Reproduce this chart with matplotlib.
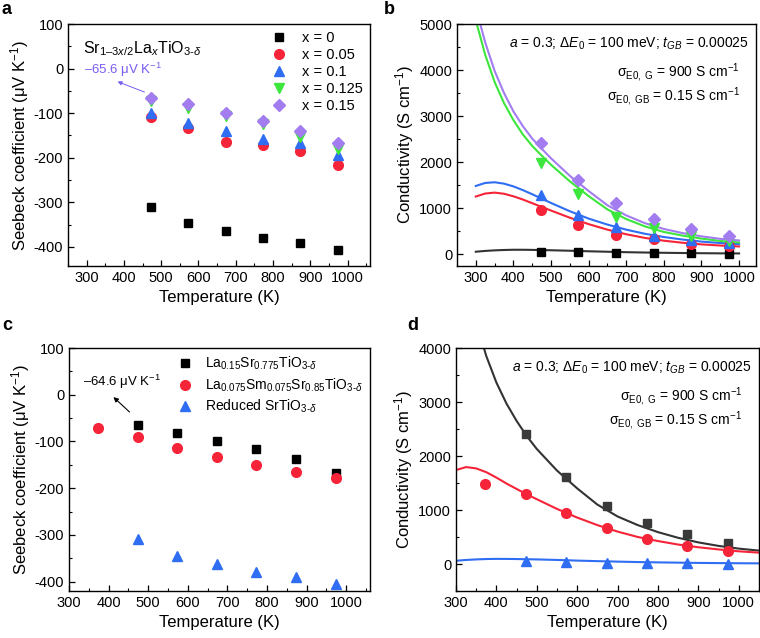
import matplotlib
matplotlib.use("Agg")
import matplotlib.pyplot as plt
from matplotlib.ticker import MultipleLocator

plt.rcParams['font.family'] = ['Liberation Sans', 'DejaVu Sans']
plt.rcParams['mathtext.fontset'] = 'custom'
plt.rcParams['mathtext.rm'] = 'Liberation Sans'
plt.rcParams['mathtext.it'] = 'Liberation Sans:italic'
plt.rcParams['mathtext.sf'] = 'Liberation Sans'
plt.rcParams['axes.unicode_minus'] = False

# ---------------- data ----------------
T_meas = [473, 573, 673, 773, 873, 973]

# panel a: Seebeck coefficient (uV/K)
a_labels = ['x = 0', 'x = 0.05', 'x = 0.1', 'x = 0.125', 'x = 0.15']
S_x0 = [-310, -347, -365, -380, -392, -406]
S_x005 = [-109, -134, -164, -171, -184, -217]
S_x01 = [-99, -122, -141, -159, -167, -193]
S_x0125 = [-72, -88, -107, -124, -153, -181]
S_x015 = [-65.6, -80, -100, -118, -139, -168]

# panel b: conductivity (S/cm) points
C_x0 = [55, 40, 25, 18, 12, 8]
C_x005 = [948, 622, 415, 330, 222, 168]
C_x01 = [1288, 858, 580, 400, 300, 230]
C_x0125 = [1985, 1305, 805, 560, 385, 280]
C_x015 = [2409, 1600, 1100, 765, 548, 398]

# panel b: model curves
T_fit_b = [300, 325, 350, 375, 400, 425, 450, 475, 500, 550, 600, 650, 700, 750, 800, 850, 900, 950, 1000]
fit_b_x0 = [50, 68, 80, 88, 93, 93, 90, 86, 82, 72, 60, 50, 40, 33, 27, 22, 18, 15, 13]
fit_b_x005 = [1250, 1315, 1335, 1310, 1255, 1185, 1105, 1025, 945, 790, 650, 530, 430, 350, 290, 245, 210, 185, 165]
fit_b_x01 = [1480, 1545, 1560, 1530, 1470, 1390, 1300, 1205, 1110, 930, 770, 640, 530, 440, 370, 315, 270, 240, 215]
fit_b_x0125 = [5080, 4330, 3740, 3280, 2910, 2600, 2350, 2140, 1940, 1580, 1260, 970, 760, 600, 480, 400, 335, 285, 252]
fit_b_x015 = [5350, 4600, 3980, 3500, 3100, 2780, 2510, 2290, 2080, 1700, 1370, 1060, 840, 670, 545, 455, 385, 330, 295]

# panel c: Seebeck coefficient
c_labels = [r'La$_{0.15}$Sr$_{0.775}$TiO$_{3\text{-}\delta}$',
            r'La$_{0.075}$Sm$_{0.075}$Sr$_{0.85}$TiO$_{3\text{-}\delta}$',
            r'Reduced SrTiO$_{3\text{-}\delta}$']
T_c_red = [373, 473, 573, 673, 773, 873, 973]
S_La = [-64.6, -81, -98, -116, -138, -167]
S_LaSm = [-72, -90, -113, -134, -151, -166, -179]
S_STO = [-309, -345, -363, -379, -391, -406]

# panel d: conductivity points
C_La = [2409, 1616, 1083, 756, 557, 396]
C_LaSm = [1480, 1294, 941, 663, 460, 334, 235]
C_STO = [60, 42, 25, 18, 12, 8]

# panel d: model curves
T_fit_d = [300, 325, 350, 375, 400, 425, 450, 475, 500, 550, 600, 650, 700, 750, 800, 850, 900, 950, 1000, 1050]
fit_d_La = [6300, 5300, 4480, 3850, 3360, 2970, 2650, 2370, 2130, 1730, 1400, 1100, 880, 720, 590, 485, 400, 335, 285, 248]
fit_d_LaSm = [1740, 1795, 1770, 1700, 1600, 1490, 1390, 1290, 1200, 1020, 860, 720, 600, 500, 425, 360, 310, 270, 235, 210]
fit_d_STO = [60, 75, 85, 92, 95, 94, 92, 88, 85, 75, 63, 53, 44, 36, 30, 25, 20, 17, 14, 12]

# ---------------- style ----------------
BLACK = '#000000'
DGRAY = '#333333'
RED = '#f52438'
BLUE = '#2f6df2'
GREEN = '#3ce63c'
PURPLE = '#a37cf0'
ANN_PURPLE = '#7a5cf0'

fig = plt.figure(figsize=(7.6, 6.38), dpi=100)
W, H = 760, 638


def add_ax(l, t, r, b):
    return fig.add_axes([l / W, 1 - b / H, (r - l) / W, (b - t) / H])


ax_a = add_ax(68, 24, 370, 266)
ax_b = add_ax(457, 24, 756, 266)
ax_c = add_ax(69, 348, 370, 591)
ax_d = add_ax(456, 348, 759, 591)

TICKFS = 10.5
LABFS = 12


def style(ax, xmaj, xmin, ymaj, ymin):
    ax.xaxis.set_major_locator(MultipleLocator(xmaj))
    ax.xaxis.set_minor_locator(MultipleLocator(xmin))
    ax.yaxis.set_major_locator(MultipleLocator(ymaj))
    ax.yaxis.set_minor_locator(MultipleLocator(ymin))
    ax.tick_params(which='both', direction='in', top=False, right=False, labelsize=TICKFS)
    ax.tick_params(which='major', length=4, width=0.9)
    ax.tick_params(which='minor', length=2.5, width=0.8)
    for s in ax.spines.values():
        s.set_linewidth(1.0)
    ax.set_xlabel('Temperature (K)', fontsize=LABFS, labelpad=4)


mk = dict(linestyle='none')

# ---------- panel a ----------
ax = ax_a
ax.plot(T_meas, S_x0, marker='s', color=BLACK, markersize=6, label=a_labels[0], **mk)
ax.plot(T_meas, S_x005, marker='o', color=RED, markersize=7, label=a_labels[1], **mk)
ax.plot(T_meas, S_x01, marker='^', color=BLUE, markersize=7.5, label=a_labels[2], **mk)
ax.plot(T_meas, S_x0125, marker='v', color=GREEN, markersize=7.5, label=a_labels[3], **mk)
ax.plot(T_meas, S_x015, marker='D', color=PURPLE, markersize=6.3, label=a_labels[4], **mk)
ax.set_xlim(250, 1060)
ax.set_ylim(-443, 100)
style(ax, 100, 50, 100, 50)
ax.set_ylabel(r'Seebeck coefficient ($\mathrm{\mu}$V K$^{-1}$)', fontsize=LABFS, labelpad=2)
ax.legend(loc='upper right', frameon=False, fontsize=TICKFS, handletextpad=0.9,
          labelspacing=0.2, borderaxespad=0.1, handlelength=1.3,
          bbox_to_anchor=(1.0, 1.0))
ax.text(0.05, 0.9, r'Sr$_{1\text{–}3x/2}$La$_x$TiO$_{3\text{-}\delta}$', transform=ax.transAxes,
        fontsize=11.5, ha='left', va='center')
ax.text(293, -3, '–65.6 $\\mathrm{\\mu}$V K$^{-1}$', fontsize=9.5, color=ANN_PURPLE,
        ha='left', va='center')
ax.annotate('', xy=(376, -27), xytext=(462, -55),
            arrowprops=dict(arrowstyle='-|>', color=ANN_PURPLE, lw=0.7, mutation_scale=6))

# ---------- panel b ----------
ax = ax_b
ax.plot(T_fit_b, fit_b_x0, color=DGRAY, lw=1.5)
ax.plot(T_fit_b, fit_b_x005, color=RED, lw=1.5)
ax.plot(T_fit_b, fit_b_x01, color=BLUE, lw=1.5)
ax.plot(T_fit_b, fit_b_x0125, color=GREEN, lw=1.5)
ax.plot(T_fit_b, fit_b_x015, color=PURPLE, lw=1.5)
ax.plot(T_meas, C_x0, marker='s', color=BLACK, markersize=6, **mk)
ax.plot(T_meas, C_x005, marker='o', color=RED, markersize=7, **mk)
ax.plot(T_meas, C_x01, marker='^', color=BLUE, markersize=7.5, **mk)
ax.plot(T_meas, C_x0125, marker='v', color=GREEN, markersize=7.5, **mk)
ax.plot(T_meas, C_x015, marker='D', color=PURPLE, markersize=6.3, **mk)
ax.set_xlim(250, 1045)
ax.set_ylim(-260, 5000)
style(ax, 100, 50, 1000, 500)
ax.set_ylabel(r'Conductivity (S cm$^{-1}$)', fontsize=LABFS, labelpad=2)

PFS = 10


def param_text(ax, y1, y2, y3):
    ax.text(0.975, y1, r'$a$ = 0.3; $\Delta$$E_0$ = 100 meV; $t_{GB}$ = 0.00025',
            transform=ax.transAxes, fontsize=PFS, ha='right', va='center')
    ax.text(0.945, y2, r'σ$_{\mathrm{E0,\ G}}$ = 900 S cm$^{-1}$',
            transform=ax.transAxes, fontsize=PFS, ha='right', va='center')
    ax.text(0.945, y3, r'σ$_{\mathrm{E0,\ GB}}$ = 0.15 S cm$^{-1}$',
            transform=ax.transAxes, fontsize=PFS, ha='right', va='center')


param_text(ax_b, 0.92, 0.80, 0.70)

# ---------- panel c ----------
ax = ax_c
ax.plot(T_meas, S_La, marker='s', color=BLACK, markersize=6, label=c_labels[0], **mk)
ax.plot(T_c_red, S_LaSm, marker='o', color=RED, markersize=7, label=c_labels[1], **mk)
ax.plot(T_meas, S_STO, marker='^', color=BLUE, markersize=7.5, label=c_labels[2], **mk)
ax.set_xlim(300, 1060)
ax.set_ylim(-420, 100)
style(ax, 100, 50, 100, 50)
ax.set_ylabel(r'Seebeck coefficient ($\mathrm{\mu}$V K$^{-1}$)', fontsize=LABFS, labelpad=2)
ax.legend(loc='upper right', frameon=False, fontsize=10, handletextpad=0.8,
          labelspacing=0.3, borderaxespad=0.1, handlelength=1.3, bbox_to_anchor=(1.0, 1.0))
ax.text(335, 27, '–64.6 $\\mathrm{\\mu}$V K$^{-1}$', fontsize=9.5, color=BLACK, ha='left', va='center')
ax.annotate('', xy=(407, -1), xytext=(458, -41),
            arrowprops=dict(arrowstyle='-|>', color=BLACK, lw=0.8, mutation_scale=7))

# ---------- panel d ----------
ax = ax_d
ax.plot(T_fit_d, fit_d_La, color=DGRAY, lw=1.5)
ax.plot(T_fit_d, fit_d_LaSm, color=RED, lw=1.5)
ax.plot(T_fit_d, fit_d_STO, color=BLUE, lw=1.5)
ax.plot(T_meas, C_La, marker='s', color='#3a3a3a', markersize=6, **mk)
ax.plot(T_c_red, C_LaSm, marker='o', color=RED, markersize=7, **mk)
ax.plot(T_meas, C_STO, marker='^', color=BLUE, markersize=7.5, **mk)
ax.set_xlim(300, 1050)
ax.set_ylim(-500, 4000)
style(ax, 100, 50, 1000, 500)
ax.set_ylabel(r'Conductivity (S cm$^{-1}$)', fontsize=LABFS, labelpad=2)
param_text(ax_d, 0.92, 0.80, 0.70)

# panel letters
for lab, x, y in [('a', 2, 9), ('b', 384, 9), ('c', 2, 326), ('d', 407, 326)]:
    fig.text(x / W, 1 - y / H, lab, fontsize=13, fontweight='bold', ha='left', va='center')

fig.savefig('out.png', dpi=100)
